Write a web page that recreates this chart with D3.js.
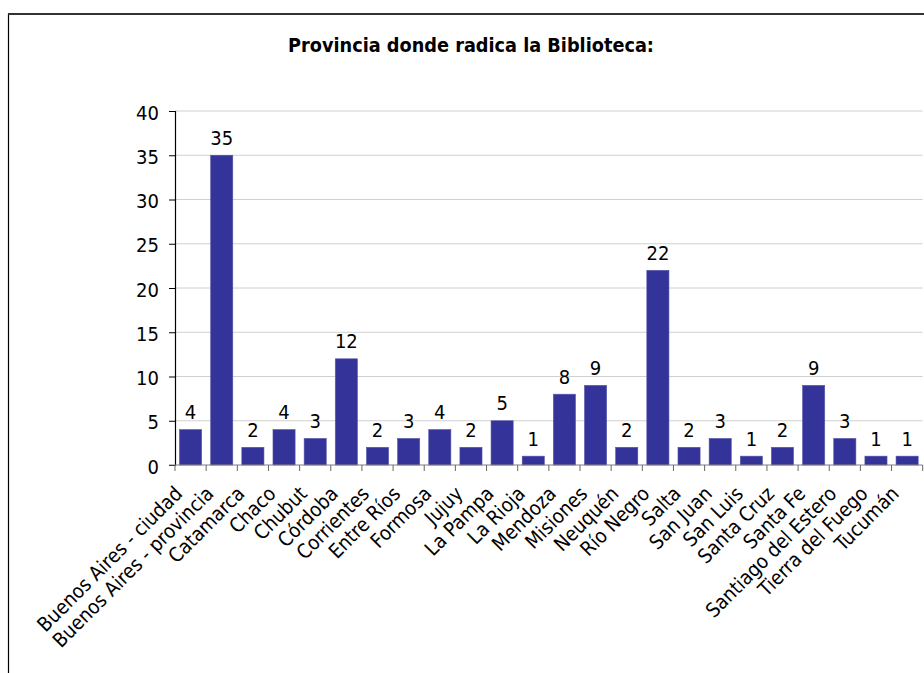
<!DOCTYPE html>
<html><head><meta charset="utf-8">
<script src="https://cdn.jsdelivr.net/npm/d3@7"></script>
<style>
body{margin:0;background:#fff;}
text{font-family:"DejaVu Sans Condensed","DejaVu Sans",sans-serif;}
</style></head>
<body><svg id="c" width="924" height="673"></svg>
<script>
const title = "Provincia donde radica la Biblioteca:";
const categories = ["Buenos Aires - ciudad","Buenos Aires - provincia","Catamarca","Chaco","Chubut","Córdoba","Corrientes","Entre Ríos","Formosa","Jujuy","La Pampa","La Rioja","Mendoza","Misiones","Neuquén","Río Negro","Salta","San Juan","San Luis","Santa Cruz","Santa Fe","Santiago del Estero","Tierra del Fuego","Tucumán"];
const values = [4,35,2,4,3,12,2,3,4,2,5,1,8,9,2,22,2,3,1,2,9,3,1,1];
const yTicks = [0,5,10,15,20,25,30,35,40];

const svg = d3.select("#c");
// frame
svg.append("rect").attr("x",8.5).attr("y",14).attr("width",940).attr("height",700)
  .attr("fill","#fff").attr("stroke","#000").attr("stroke-width",1.2);
svg.append("line").attr("x1",8).attr("x2",924).attr("y1",14).attr("y2",14)
  .attr("stroke","#333").attr("stroke-width",2.2);

svg.append("text").attr("x",471).attr("y",52).attr("text-anchor","middle")
  .attr("font-weight","bold").attr("font-size",19.7).text(title);

const x = d3.scaleBand().domain(categories).range([175,922.7]).paddingInner(0.29).paddingOuter(0.145);
const y = d3.scaleLinear().domain([0,40]).range([465,111]);

// grid
svg.append("g").selectAll("line").data(yTicks.filter(d=>d>0)).join("line")
  .attr("x1",175).attr("x2",922.7).attr("y1",d=>y(d)).attr("y2",d=>y(d))
  .attr("stroke","#d0d0d0").attr("stroke-width",1);

// bars
svg.append("g").selectAll("rect").data(values).join("rect")
  .attr("x",(d,i)=>x(categories[i])).attr("width",x.bandwidth())
  .attr("y",d=>y(d)).attr("height",d=>y(0)-y(d))
  .attr("fill","#333399").attr("stroke","#5555aa").attr("stroke-width",0.6);

// value labels
svg.append("g").selectAll("text").data(values).join("text")
  .attr("x",(d,i)=>x(categories[i])+x.bandwidth()/2).attr("y",d=>y(d)-10.5)
  .attr("text-anchor","middle").attr("font-size",20).attr("fill","#000").text(d=>d);

// y axis
const ya = svg.append("g").attr("transform","translate(175,0)")
  .call(d3.axisLeft(y).tickValues(yTicks).tickSize(6).tickPadding(10));
ya.select(".domain").attr("stroke","#000").attr("stroke-width",1.2);
ya.selectAll(".tick line").attr("stroke","#000");
ya.selectAll(".tick text").attr("font-size",20).attr("dy","0.4em")
  .attr("font-family","DejaVu Sans Condensed, DejaVu Sans").attr("fill","#000");

// x axis
const xa = svg.append("g").attr("transform","translate(0,465)");
xa.append("line").attr("x1",169).attr("x2",922.7).attr("y1",0).attr("y2",0).attr("stroke","#808080").attr("stroke-width",1.2);
const step = x.step();
xa.selectAll("line.t").data(d3.range(categories.length+1)).join("line").attr("class","t")
  .attr("x1",i=>175+i*step).attr("x2",i=>175+i*step).attr("y1",0).attr("y2",6)
  .attr("stroke","#666");
xa.selectAll("text.l").data(categories).join("text").attr("class","l")
  .attr("transform",d=>`translate(${x(d)+x.bandwidth()/2-7},${30}) rotate(-45)`)
  .attr("text-anchor","end").attr("font-size",20).attr("fill","#000").text(d=>d);
</script></body></html>
